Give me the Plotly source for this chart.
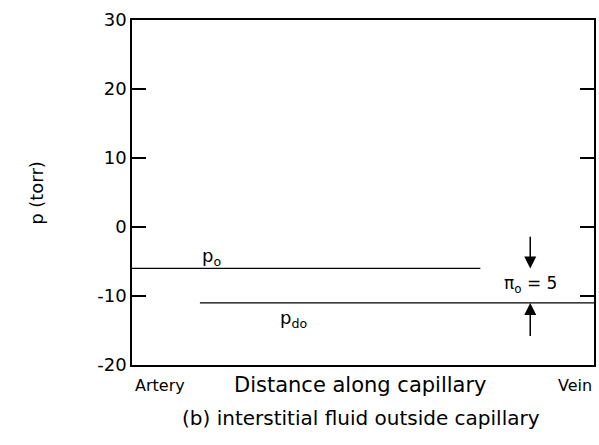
import plotly.graph_objects as go

# Data
po_x = [0.0, 0.754]
po_y = [-6, -6]
pdo_x = [0.147, 1.0]
pdo_y = [-11, -11]
arrow_x = 0.862
pi_o = 5
y_ticks = [-20, -10, 0, 10, 20, 30]
y_tick_text = ["-20", "-10", "0", "10", "20", "30"]
x_labels = ["Artery", "Distance along capillary", "Vein"]
x_label_pos = [0.06, 0.494, 0.958]

FONT = "DejaVu Sans, Liberation Sans, Arial, sans-serif"

fig = go.Figure()
fig.add_trace(go.Scatter(x=po_x, y=po_y, mode="lines",
                         line=dict(color="black", width=1.2), hoverinfo="skip"))
fig.add_trace(go.Scatter(x=pdo_x, y=pdo_y, mode="lines",
                         line=dict(color="black", width=1.2), hoverinfo="skip"))

ann = []
# arrows
ann.append(dict(x=arrow_x, y=po_y[0], ax=arrow_x, ay=-1.2, xref="x", yref="y",
                axref="x", ayref="y", showarrow=True, arrowhead=2, arrowsize=1.6,
                arrowwidth=1.5, arrowcolor="black", text=""))
ann.append(dict(x=arrow_x, y=pdo_y[0], ax=arrow_x, ay=-16, xref="x", yref="y",
                axref="x", ayref="y", showarrow=True, arrowhead=2, arrowsize=1.6,
                arrowwidth=1.5, arrowcolor="black", text=""))
ann.append(dict(x=arrow_x, y=-8.3, xref="x", yref="y", showarrow=False,
                xanchor="center", yanchor="middle",
                text=f"π<sub>o</sub> = {pi_o}", font=dict(size=17, color="black", family=FONT)))
ann.append(dict(x=0.172, y=-4.3, xref="x", yref="y", showarrow=False,
                xanchor="center", yanchor="middle",
                text="p<sub>o</sub>", font=dict(size=18, color="black", family=FONT)))
ann.append(dict(x=0.35, y=-13.3, xref="x", yref="y", showarrow=False,
                xanchor="center", yanchor="middle",
                text="p<sub>do</sub>", font=dict(size=18, color="black", family=FONT)))
sizes = [16, 21, 16]
for lbl, xp, s in zip(x_labels, x_label_pos, sizes):
    ann.append(dict(x=xp, y=-0.058, xref="x", yref="paper", showarrow=False,
                    xanchor="center", yanchor="middle",
                    text=lbl, font=dict(size=s, color="black", family=FONT)))
ann.append(dict(x=0.495, y=-0.154, xref="x", yref="paper", showarrow=False,
                xanchor="center", yanchor="middle",
                text="(b) interstitial fluid outside capillary",
                font=dict(size=20, color="black", family=FONT)))
ann.append(dict(x=-0.207, y=0.5, xref="paper", yref="paper", showarrow=False,
                xanchor="center", yanchor="middle",
                text="p (torr)", textangle=-90,
                font=dict(size=18, color="black", family=FONT)))

fig.update_layout(
    width=599, height=445,
    margin=dict(l=132, r=3, t=20, b=80),
    paper_bgcolor="white", plot_bgcolor="white",
    showlegend=False,
    annotations=ann,
    font=dict(family=FONT, color="black"),
    xaxis=dict(range=[0, 1], showgrid=False, zeroline=False, showticklabels=False,
               ticks="", showline=True, linecolor="black", linewidth=1.5, mirror=True),
    yaxis=dict(range=[-20, 30], tickvals=y_ticks, ticktext=y_tick_text,
               showgrid=False, zeroline=False,
               ticks="inside", ticklen=14, tickwidth=1.5, tickcolor="black",
               showline=True, linecolor="black", linewidth=1.5, mirror="ticks",
               tickfont=dict(size=18, color="black", family=FONT)),
)

# remove the default 8px page margin so the figure fills the window exactly
fig.write_html("out.html",
               config={"displayModeBar": False},
               post_script="document.body.style.margin='0';document.body.style.overflow='hidden';")
